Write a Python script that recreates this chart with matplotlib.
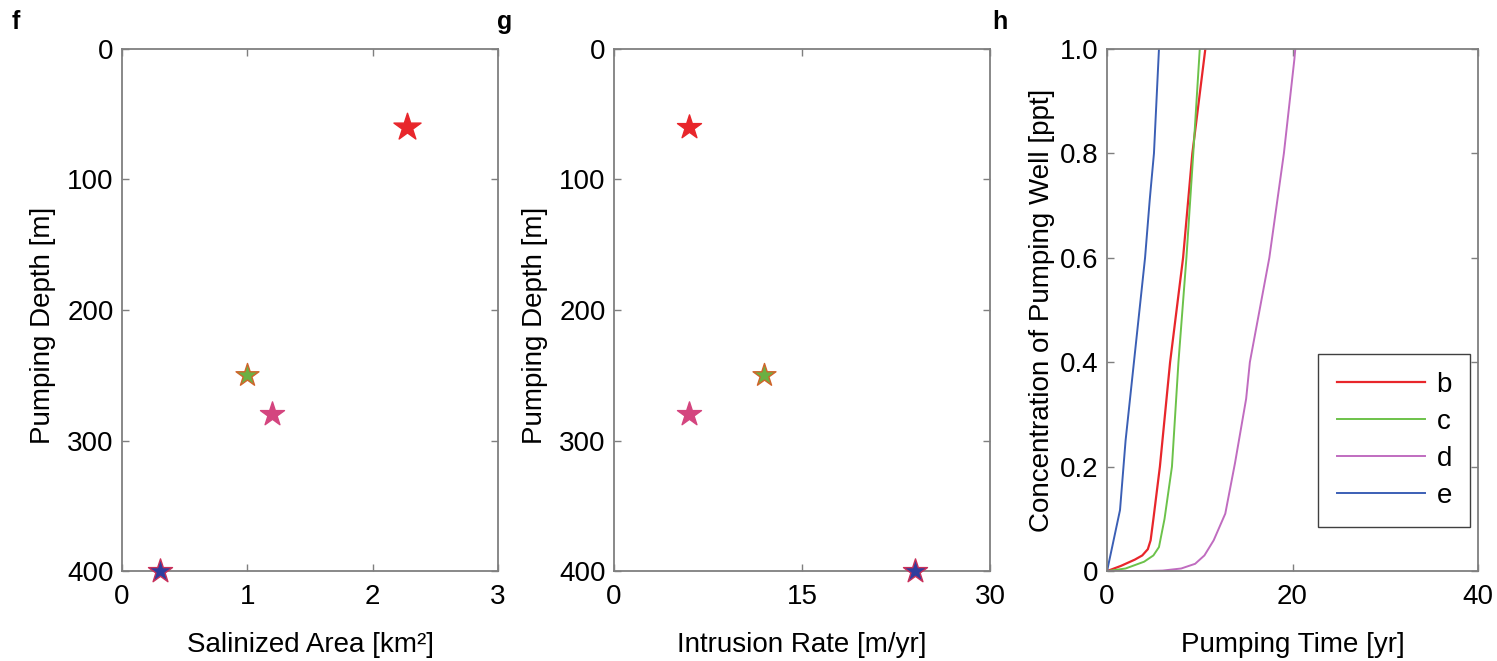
import matplotlib
matplotlib.use("Agg")
import matplotlib.pyplot as plt

plt.rcParams['font.family'] = ['Liberation Sans', 'DejaVu Sans']
plt.rcParams['font.size'] = 20

# scatter data (panels f, g)
depth = [60, 250, 280, 400]
area = [2.27, 1.0, 1.2, 0.3]
rate = [6, 12, 6, 24]
face_cols = ['#e8262b', '#6cb043', '#d4457f', '#2f3e9e']
edge_cols = ['#e8262b', '#d0642a', '#d4457f', '#c8305a']
star_sizes = [420, 300, 330, 330]
star_sizes_g = [330, 300, 330, 330]

# concentration curves (panel h)
t_b = [0, 1.5, 3.0, 3.8, 4.4, 4.7, 5.0, 5.7, 6.8, 8.2, 9.2, 10.6]
c_b = [0, 0.01, 0.022, 0.03, 0.042, 0.059, 0.1, 0.2, 0.4, 0.6, 0.8, 1.0]
t_c = [0, 2.0, 4.0, 5.0, 5.6, 6.2, 7.0, 7.7, 8.56, 9.3, 10.0]
c_c = [0, 0.005, 0.018, 0.03, 0.046, 0.1, 0.2, 0.4, 0.6, 0.8, 1.0]
t_d = [0, 4.0, 6.0, 8.0, 9.5, 10.5, 11.5, 12.75, 13.8, 15.0, 15.4, 17.5, 19.07, 20.2, 20.3]
c_d = [0, 0, 0.001, 0.005, 0.014, 0.03, 0.059, 0.11, 0.207, 0.33, 0.4, 0.6, 0.8, 0.98, 1.0]
t_e = [0, 0.6, 1.4, 2.0, 2.9, 3.5, 4.1, 4.6, 4.7, 5.06, 5.6]
c_e = [0, 0.05, 0.117, 0.25, 0.4, 0.5, 0.6, 0.71, 0.73, 0.8, 1.0]
line_cols = {'b': '#e8262b', 'c': '#6cc24a', 'd': '#c06cc0', 'e': '#3b5fb5'}

spine_col = '#7f7f7f'

fig = plt.figure(figsize=(14.97, 6.61), dpi=100)
ax_f = fig.add_axes([0.0815, 0.136, 0.2512, 0.790])
ax_g = fig.add_axes([0.4102, 0.136, 0.2512, 0.790])
ax_h = fig.add_axes([0.7395, 0.136, 0.2478, 0.790])


def style(ax):
    for s in ax.spines.values():
        s.set_color(spine_col)
        s.set_linewidth(1.3)
    ax.tick_params(direction='in', top=True, right=True, color=spine_col,
                   length=5, width=1.0, labelsize=20, pad=6)
    ax.tick_params(axis='x', pad=9)


for i in range(len(depth)):
    ax_f.scatter(area[i], depth[i], marker='*', s=star_sizes[i], c=face_cols[i],
                 edgecolors=edge_cols[i], linewidths=1.0, zorder=3, clip_on=False)
ax_f.set_xlim(0, 3)
ax_f.set_ylim(400, 0)
ax_f.set_xticks([0, 1, 2, 3])
ax_f.set_yticks([0, 100, 200, 300, 400])
ax_f.set_xlabel('Salinized Area [km²]', labelpad=16)
ax_f.set_ylabel('Pumping Depth [m]', labelpad=6)
ax_f.yaxis.set_label_coords(-0.175, 0.47)
style(ax_f)

for i in range(len(depth)):
    ax_g.scatter(rate[i], depth[i], marker='*', s=star_sizes_g[i], c=face_cols[i],
                 edgecolors=edge_cols[i], linewidths=1.0, zorder=3, clip_on=False)
ax_g.set_xlim(0, 30)
ax_g.set_ylim(400, 0)
ax_g.set_xticks([0, 15, 30])
ax_g.set_yticks([0, 100, 200, 300, 400])
ax_g.set_xlabel('Intrusion Rate [m/yr]', labelpad=16)
ax_g.set_ylabel('Pumping Depth [m]', labelpad=6)
ax_g.yaxis.set_label_coords(-0.175, 0.47)
style(ax_g)

ax_h.plot(t_b, c_b, color=line_cols['b'], lw=1.6, label='b')
ax_h.plot(t_c, c_c, color=line_cols['c'], lw=1.4, label='c')
ax_h.plot(t_d, c_d, color=line_cols['d'], lw=1.4, label='d')
ax_h.plot(t_e, c_e, color=line_cols['e'], lw=1.4, label='e')
ax_h.set_xlim(0, 40)
ax_h.set_ylim(0, 1)
ax_h.set_xticks([0, 20, 40])
ax_h.set_yticks([0, 0.2, 0.4, 0.6, 0.8, 1.0])
ax_h.set_yticklabels(['0', '0.2', '0.4', '0.6', '0.8', '1.0'])
ax_h.set_xlabel('Pumping Time [yr]', labelpad=16)
ax_h.set_ylabel('Concentration of Pumping Well [ppt]', labelpad=4)
style(ax_h)
leg = ax_h.legend(loc='lower left', bbox_to_anchor=(0.57, 0.084), fancybox=False,
                  edgecolor='#404040', fontsize=20, handlelength=3.2,
                  handletextpad=0.4, borderpad=0.65, labelspacing=0.4,
                  framealpha=1, borderaxespad=0)
leg.get_frame().set_linewidth(1.0)

fig.text(0.008, 0.967, 'f', fontsize=18, fontweight='bold', va='center')
fig.text(0.332, 0.967, 'g', fontsize=18, fontweight='bold', va='center')
fig.text(0.663, 0.967, 'h', fontsize=18, fontweight='bold', va='center')

fig.savefig('out.png', dpi=100)
